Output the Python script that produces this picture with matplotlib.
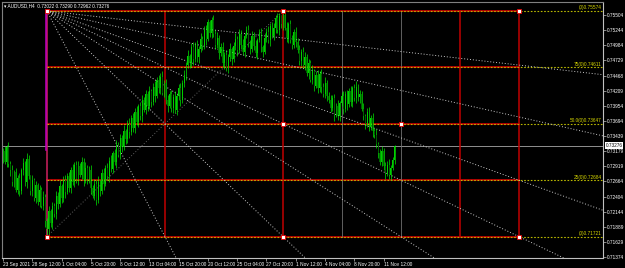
import matplotlib

matplotlib.use("Agg")
import matplotlib.pyplot as plt
import numpy as np

# --- data (AUDUSD H4) ---
closes = [
    0.7318, 0.7300, 0.7325, 0.7296, 0.7285,
    0.7265, 0.7282, 0.7252, 0.7272, 0.7250, 0.7285,
    0.7298, 0.7265, 0.7305, 0.7275, 0.7250,
    0.7268, 0.7238, 0.7260, 0.7232, 0.7252,
    0.7225, 0.7240, 0.7198, 0.7185, 0.7215,
    0.7195, 0.7225, 0.7210, 0.7242, 0.7228, 0.7258, 0.7238, 0.7268, 0.7248, 0.7275,
    0.7255, 0.7285, 0.7265, 0.7295, 0.7270, 0.7292, 0.7278, 0.7300, 0.7268, 0.7290,
    0.7270, 0.7285, 0.7255, 0.7242, 0.7262, 0.7235, 0.7265,
    0.7250, 0.7280, 0.7262, 0.7290, 0.7275, 0.7302, 0.7288, 0.7315,
    0.7300, 0.7328, 0.7312, 0.7340, 0.7325, 0.7352, 0.7338, 0.7365, 0.7350, 0.7375,
    0.7358, 0.7385, 0.7368, 0.7395, 0.7378, 0.7405, 0.7388, 0.7415, 0.7395, 0.7420,
    0.7402, 0.7428, 0.7412, 0.7440, 0.7425, 0.7445, 0.7418, 0.7435, 0.7405, 0.7395,
    0.7415, 0.7392, 0.7410, 0.7388, 0.7412, 0.7425, 0.7405, 0.7435, 0.7448, 0.7465,
    0.7480, 0.7468, 0.7495, 0.7475, 0.7500, 0.7478, 0.7492, 0.7510,
    0.7498, 0.7525, 0.7510, 0.7538, 0.7520, 0.7542, 0.7518,
    0.7500, 0.7512, 0.7485, 0.7495, 0.7468, 0.7482, 0.7460, 0.7478, 0.7492, 0.7475,
    0.7498, 0.7510, 0.7490, 0.7518, 0.7500, 0.7488, 0.7515, 0.7525, 0.7502, 0.7492,
    0.7515, 0.7498, 0.7485, 0.7508, 0.7520, 0.7495, 0.7488, 0.7512, 0.7522, 0.7508,
    0.7532, 0.7515, 0.7528, 0.7545, 0.7525, 0.7548, 0.7535,
    0.7550,
    0.7528, 0.7512, 0.7535, 0.7508, 0.7500, 0.7522, 0.7505,
    0.7490, 0.7472, 0.7488, 0.7465, 0.7478, 0.7452,
    0.7468, 0.7440, 0.7455, 0.7430, 0.7448, 0.7425,
    0.7450, 0.7428, 0.7415, 0.7435, 0.7412, 0.7405,
    0.7392, 0.7408, 0.7380, 0.7395, 0.7378, 0.7400,
    0.7412, 0.7390, 0.7415, 0.7398, 0.7420, 0.7402, 0.7425, 0.7408,
    0.7428, 0.7410, 0.7415, 0.7390, 0.7378,
    0.7365, 0.7385, 0.7360, 0.7375, 0.7352, 0.7345,
    0.7330, 0.7315, 0.7300, 0.7318, 0.7292,
    0.7280, 0.7295, 0.7278, 0.7290,
    0.73022, 0.73276,
]
first_open = 0.7305

# wicks above / below the candle body, in pips
wick_up = [
    6, 9, 4, 8, 5, 10, 3, 7, 6, 9,
    5, 8, 4, 10, 6, 3, 9, 5, 7, 4,
    8, 5, 10, 4, 6, 9, 5, 7, 4, 8,
    6, 10, 4, 7, 9, 5, 8, 6, 11, 4,
    7, 9, 5, 8, 6, 10, 4, 7, 9, 5,
    8, 6, 10, 4, 7, 9, 5, 8, 6, 10,
    4, 7, 9, 5, 8, 6, 10, 4, 7, 9,
    5, 8, 6, 10, 4, 7, 9, 5, 8, 6,
    10, 4, 7, 9, 5, 8, 6, 10, 4, 7,
    9, 5, 8, 6, 10, 4, 7, 9, 5, 8,
    6, 10, 4, 7, 9, 5, 8, 6, 10, 4,
    7, 9, 5, 4, 5, 8, 6, 10, 4, 7,
    9, 5, 8, 6, 10, 4, 7, 9, 5, 8,
    6, 10, 4, 7, 9, 5, 8, 6, 10, 4,
    7, 9, 5, 8, 6, 10, 4, 7, 9, 5,
    8, 6, 3, 7.4, 6, 10, 4, 7, 9, 5,
    8, 6, 10, 4, 7, 9, 5, 8, 6, 10,
    4, 7, 9, 5, 8, 6, 10, 4, 7, 9,
    5, 8, 6, 10, 4, 7, 9, 5, 8, 6,
    10, 4, 7, 9, 5, 8, 6, 10, 4, 7,
    9, 5, 8, 6, 10, 4, 7, 9, 5, 8,
    6, 10, 4, 5, 1.4,
]
wick_dn = [
    7, 4, 9, 5, 10, 6, 8, 4, 7, 9,
    5, 8, 6, 10, 4, 7, 9, 5, 8, 6,
    10, 4, 7, 9, 13, 8, 6, 10, 4, 7,
    9, 5, 8, 6, 10, 4, 7, 9, 5, 8,
    6, 10, 4, 7, 9, 5, 8, 6, 10, 4,
    7, 9, 5, 8, 6, 10, 4, 7, 9, 5,
    8, 6, 10, 4, 7, 9, 5, 8, 6, 10,
    4, 7, 9, 5, 8, 6, 10, 4, 7, 9,
    5, 8, 6, 10, 4, 7, 9, 5, 8, 6,
    10, 4, 7, 9, 5, 8, 6, 10, 4, 7,
    9, 5, 8, 6, 10, 4, 7, 9, 5, 8,
    6, 10, 4, 7, 9, 5, 8, 6, 10, 4,
    7, 9, 5, 8, 6, 10, 4, 7, 9, 5,
    8, 6, 10, 4, 7, 9, 5, 8, 6, 10,
    4, 7, 9, 5, 8, 6, 10, 4, 7, 9,
    5, 8, 6, 10, 4, 7, 9, 5, 8, 6,
    10, 4, 7, 9, 5, 8, 6, 10, 4, 7,
    9, 5, 8, 6, 10, 4, 7, 9, 5, 8,
    6, 10, 4, 7, 9, 5, 8, 6, 10, 4,
    7, 9, 5, 8, 6, 10, 4, 7, 9, 5,
    8, 6, 10, 4, 7, 9, 5, 8, 6, 10,
    4, 7, 9, 5, 6,
]
assert len(closes) == len(wick_up) == len(wick_dn), (len(closes), len(wick_up), len(wick_dn))

date_labels = ["23 Sep 2021", "28 Sep 12:00", "1 Oct 04:00", "5 Oct 20:00", "8 Oct 12:00",
               "13 Oct 04:00", "15 Oct 20:00", "20 Oct 12:00", "25 Oct 04:00", "27 Oct 20:00",
               "1 Nov 12:00", "4 Nov 04:00", "8 Nov 20:00", "11 Nov 12:00"]
label_step = 16

price_ticks = [0.75504, 0.75244, 0.74984, 0.74729, 0.74468, 0.74209, 0.73954, 0.73694,
               0.73439, 0.73179, 0.72919, 0.72664, 0.72404, 0.72144, 0.71889, 0.71629, 0.71374]
last_price = 0.73276
title = "AUDUSD,H4  0.73022 0.73290 0.72962 0.73276"

# fibonacci retracement anchors (bar index, price)
fib_low = (24, 0.71721)
fib_high = (153, 0.75574)
fib_levels = [0.0, 0.25, 0.5, 0.75, 1.0]
fib_texts = ["(0)0.71721", "25(0)0.72684", "50.0(0)0.73647", "75(0)0.74611", "(0)0.75574"]
fib_end = 282  # red segments stop here

# vertical lines (bar index)
vlines_red = [88.5, 153, 249.5, 282]
vlines_grey = [185.5, 217.5]

# fan from the top-left corner, ratios of the high-low range over the same bars
fan_ratios = [0.12, 0.235, 0.375, 0.5, 0.667, 1.0, 2.0]

# --- drawing ---
plt.rcParams["font.family"] = ["Liberation Sans", "DejaVu Sans"]
BG = "black"
FS = 3.4
fig = plt.figure(figsize=(6.25, 2.68), dpi=100, facecolor=BG)
ax = fig.add_axes([2 / 625, 1 - 258 / 268, 601 / 625, 256 / 268], facecolor=BG)

n = len(closes)
idx = np.arange(n)
cl = np.array(closes)
op = np.concatenate([[first_open], cl[:-1]])
hi = np.maximum(op, cl) + np.array(wick_up) * 1e-4
lo = np.minimum(op, cl) - np.array(wick_dn) * 1e-4
up = cl >= op

ax.set_xlim(-0.55, 327.9)
ax.set_ylim(0.71356, 0.75726)

# fib levels
lo_p, hi_p = fib_low[1], fib_high[1]
for lvl, txt in zip(fib_levels, fib_texts):
    p = lo_p + lvl * (hi_p - lo_p)
    ax.plot([fib_low[0], fib_end], [p, p], color="#b00000", lw=1.4, zorder=2)
    ax.plot([fib_low[0], 327.9], [p, p], color="#b8b800", lw=0.8, ls=(0, (1.5, 1.5)), zorder=3)
    ax.text(327.2, p + 0.00008, txt, color="#d8d800", fontsize=FS, ha="right", va="bottom", zorder=6)

# vertical lines
for b in vlines_red:
    ax.plot([b, b], [lo_p, hi_p], color="#c00000", lw=1.1, zorder=2)
for b in vlines_grey:
    ax.plot([b, b], [lo_p, hi_p], color="#707070", lw=0.6, zorder=2)
ax.plot([fib_low[0], fib_low[0]], [lo_p, hi_p], color="#d02060", lw=1.1, zorder=2)
ax.plot([fib_low[0] - 0.6, fib_low[0] - 0.6], [0.7320, hi_p], color="#c000c0", lw=1.1, zorder=2)

# base trend line of the fan
ax.plot([fib_low[0], fib_high[0]], [lo_p, hi_p], color="#606060", lw=0.7, ls=(0, (1, 2)), zorder=2)

# fan rays from the top corner
span = fib_high[0] - fib_low[0]
for r in fan_ratios:
    slope = -r * (hi_p - lo_p) / span
    x_end = 400
    ax.plot([fib_low[0], x_end], [hi_p, hi_p + slope * (x_end - fib_low[0])],
            color="#c8c8c8", lw=0.7, ls=(0, (1, 2)), zorder=3)

# current price line
ax.axhline(last_price, color="#909090", lw=0.7, zorder=1)

# candles
ax.vlines(idx, lo, hi, color="#00ff00", lw=0.45, zorder=4)
ax.bar(idx[up], (cl - op)[up], bottom=op[up], width=0.5, color="#00d000", edgecolor="none", zorder=5)
ax.bar(idx[~up], (op - cl)[~up], bottom=cl[~up], width=0.5, color="#006000", edgecolor="none", zorder=5)

# anchor markers
marks = [(fib_low[0], hi_p), (fib_low[0], lo_p), (fib_high[0], hi_p), (fib_high[0], (lo_p + hi_p) / 2),
         (fib_high[0], lo_p), (fib_end, hi_p), (fib_end, lo_p), (217.5, (lo_p + hi_p) / 2)]
mx, my = zip(*marks)
ax.scatter(mx, my, s=5, marker="s", facecolor="white", edgecolor="#e00000", lw=0.6, zorder=7)

# axes styling
for side in ["top", "left"]:
    ax.spines[side].set_color("#808080")
for side in ["right", "bottom"]:
    ax.spines[side].set_color("#c0c0c0")
for s in ax.spines.values():
    s.set_linewidth(0.8)
ax.yaxis.tick_right()
ax.set_yticks(price_ticks)
ax.set_yticklabels([f"{p:.5f}" for p in price_ticks])
ax.set_xticks(range(0, n, label_step))
ax.set_xticklabels(date_labels, ha="left")
ax.tick_params(colors="#c0c0c0", labelcolor="white", labelsize=FS, length=2, width=0.5, pad=1)

ax.text(0.6, 0.7566, "\u25be " + title, color="white", fontsize=FS, ha="left", va="center")
ax.text(1.004, last_price, f"{last_price:.5f}", color="black", fontsize=FS, ha="left", va="center",
        transform=ax.get_yaxis_transform(), bbox=dict(facecolor="white", edgecolor="none", pad=0.5),
        clip_on=False, zorder=8)

fig.savefig("out.png", dpi=100, facecolor=BG)
